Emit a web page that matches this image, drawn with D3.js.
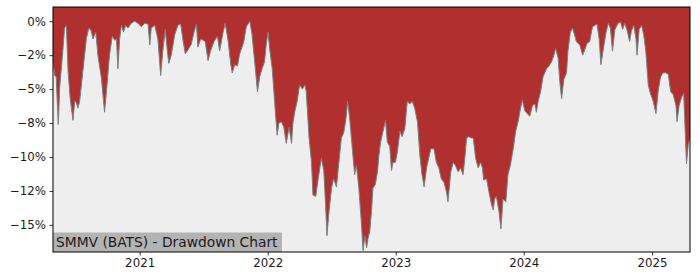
<!DOCTYPE html>
<html>
<head>
<meta charset="utf-8">
<script src="https://cdn.jsdelivr.net/npm/d3@7"></script>
<style>
  body { margin: 0; background: #fff; }
  text { font-family: "DejaVu Sans", sans-serif; }
</style>
</head>
<body>
<div id="chart"></div>
<script>
var title = "SMMV (BATS) - Drawdown Chart";

var dates = [
  "2020-04-29","2020-05-04","2020-05-08","2020-05-14","2020-05-18","2020-05-26","2020-06-01","2020-06-06","2020-06-11","2020-06-17",
  "2020-06-25","2020-06-30","2020-07-05","2020-07-09","2020-07-14","2020-07-23","2020-08-02","2020-08-09","2020-08-16","2020-08-21",
  "2020-08-29","2020-09-04","2020-09-14","2020-09-23","2020-09-30","2020-10-07","2020-10-15","2020-10-22","2020-10-27","2020-10-31",
  "2020-11-05","2020-11-10","2020-11-16","2020-11-22","2020-11-29","2020-12-08","2020-12-18","2020-12-27","2021-01-06","2021-01-15",
  "2021-01-25","2021-01-30","2021-02-03","2021-02-13","2021-02-22","2021-03-02","2021-03-08","2021-03-15","2021-03-21","2021-03-25",
  "2021-04-01","2021-04-11","2021-04-20","2021-04-28","2021-05-04","2021-05-11","2021-05-19","2021-05-28","2021-06-05","2021-06-12",
  "2021-06-16","2021-06-24","2021-07-01","2021-07-07","2021-07-15","2021-07-22","2021-08-01","2021-08-11","2021-08-17","2021-08-27",
  "2021-09-02","2021-09-10","2021-09-18","2021-09-22","2021-09-29","2021-10-07","2021-10-13","2021-10-20","2021-10-25","2021-11-01",
  "2021-11-11","2021-11-17","2021-11-25","2021-12-03","2021-12-09","2021-12-16","2021-12-23","2021-12-28","2022-01-02","2022-01-07",
  "2022-01-14","2022-01-21","2022-01-28","2022-02-02","2022-02-09","2022-02-16","2022-02-23","2022-03-03","2022-03-10","2022-03-14",
  "2022-03-19","2022-03-26","2022-04-02","2022-04-10","2022-04-17","2022-04-21","2022-04-29","2022-05-06","2022-05-10","2022-05-18",
  "2022-05-25","2022-06-03","2022-06-10","2022-06-15","2022-06-19","2022-06-25","2022-07-02","2022-07-08","2022-07-16","2022-07-23",
  "2022-07-30","2022-08-06","2022-08-12","2022-08-17","2022-08-23","2022-08-31","2022-09-06","2022-09-11","2022-09-18","2022-09-25",
  "2022-09-30","2022-10-05","2022-10-10","2022-10-14","2022-10-19","2022-10-24","2022-10-28","2022-11-04","2022-11-10","2022-11-14",
  "2022-11-19","2022-11-26","2022-12-03","2022-12-08","2022-12-15","2022-12-20","2022-12-24","2022-12-31","2023-01-06","2023-01-13",
  "2023-01-19","2023-01-27","2023-02-03","2023-02-10","2023-02-17","2023-02-24","2023-03-04","2023-03-11","2023-03-17","2023-03-23",
  "2023-03-30","2023-04-05","2023-04-11","2023-04-20","2023-04-27","2023-05-04","2023-05-11","2023-05-19","2023-05-26","2023-05-30",
  "2023-06-07","2023-06-14","2023-06-20","2023-06-28","2023-07-05","2023-07-12","2023-07-17","2023-07-22","2023-07-28","2023-08-05",
  "2023-08-10","2023-08-17","2023-08-24","2023-08-31","2023-09-05","2023-09-09","2023-09-17","2023-09-24","2023-10-01","2023-10-06",
  "2023-10-10","2023-10-15","2023-10-23","2023-10-28","2023-11-03","2023-11-11","2023-11-17","2023-11-24","2023-12-02","2023-12-09",
  "2023-12-16","2023-12-23","2023-12-28","2024-01-04","2024-01-11","2024-01-18","2024-01-26","2024-02-02","2024-02-06","2024-02-11",
  "2024-02-18","2024-02-25","2024-03-06","2024-03-13","2024-03-20","2024-03-27","2024-04-01","2024-04-08","2024-04-13","2024-04-18",
  "2024-04-24","2024-05-02","2024-05-06","2024-05-13","2024-05-19","2024-05-26","2024-05-30","2024-06-09","2024-06-17","2024-06-23",
  "2024-06-30","2024-07-07","2024-07-15","2024-07-22","2024-07-28","2024-08-03","2024-08-08","2024-08-14","2024-08-22","2024-08-29",
  "2024-09-04","2024-09-10","2024-09-17","2024-09-26","2024-10-03","2024-10-09","2024-10-15","2024-10-22","2024-10-29","2024-11-03",
  "2024-11-10","2024-11-16","2024-11-19","2024-11-25","2024-12-02","2024-12-08","2024-12-14","2024-12-21","2024-12-27","2025-01-04",
  "2025-01-12","2025-01-18","2025-01-25","2025-02-01","2025-02-09","2025-02-16","2025-02-23","2025-03-02","2025-03-10","2025-03-13",
  "2025-03-19","2025-03-26","2025-04-01","2025-04-06","2025-04-09","2025-04-14","2025-04-19"
];

// drawdown in percent
var drawdown = [
  -3.0,-4.0,-4.1,-7.6,-4.9,-2.5,-0.5,-0.3,-3.7,-5.7,
  -7.3,-5.9,-6.0,-6.4,-5.9,-3.7,-1.3,-0.5,-0.7,-1.3,
  -0.8,-2.5,-4.2,-6.7,-4.7,-2.5,-1.1,-1.4,-1.3,-3.5,
  -1.3,-0.3,-0.8,-0.3,-0.5,-0.15,0,-0.15,-0.4,-0.15,
  -0.2,-1.75,-0.5,-0.3,-1.3,-4.0,-2.2,-0.6,-2.2,-3.1,
  -2.5,-1.0,-0.3,-0.2,-1.3,-2.4,-2.1,-1.7,-0.8,-0.2,
  -1.9,-1.3,-1.4,-1.5,-2.9,-2.2,-1.5,-1.1,-2.2,-0.8,
  -0.15,-1.4,-3.2,-3.8,-3.2,-3.3,-2.4,-1.9,-1.5,-0.4,
  0,-0.9,-3.0,-5.2,-4.1,-3.5,-3.0,-1.7,-0.8,-2.1,
  -3.5,-6.0,-8.4,-7.5,-7.4,-7.8,-9.0,-7.8,-9.0,-7.5,
  -6.7,-5.9,-4.7,-5.0,-4.7,-5.2,-8.6,-10.4,-12.8,-12.9,
  -11.6,-10.1,-11.0,-13.5,-15.8,-14.0,-12.3,-11.6,-12.2,-10.4,
  -8.6,-8.2,-7.2,-5.9,-7.2,-9.6,-11.3,-10.6,-12.3,-14.8,
  -16.9,-15.8,-16.7,-16.0,-15.5,-14.0,-12.3,-12.0,-11.1,-9.9,
  -8.9,-8.1,-7.3,-8.9,-9.2,-11.0,-10.4,-10.4,-9.6,-8.1,
  -8.5,-7.9,-5.9,-6.1,-5.9,-6.4,-7.4,-9.9,-11.3,-12.2,
  -10.8,-10.1,-9.4,-9.4,-10.4,-10.8,-11.6,-11.9,-12.6,-13.3,
  -11.1,-10.4,-10.6,-11.1,-10.8,-11.3,-10.1,-8.6,-8.5,-8.6,
  -8.6,-10.1,-10.8,-10.4,-10.8,-11.7,-11.6,-12.6,-13.5,-13.9,
  -13.1,-12.9,-14.1,-15.3,-13.1,-13.3,-11.3,-10.6,-9.4,-8.1,
  -7.4,-6.4,-5.8,-6.6,-6.8,-7.0,-6.2,-6.1,-6.7,-5.9,
  -5.2,-4.1,-3.5,-3.3,-3.0,-2.5,-2.0,-2.7,-4.5,-5.7,
  -4.3,-3.8,-2.2,-0.8,-0.5,-1.1,-1.5,-1.75,-2.5,-2.1,
  -1.6,-1.5,-0.4,-0.3,-0.2,-1.3,-3.2,-2.2,-0.9,-0.15,
  -0.5,-2.2,-0.6,-0.15,-0.05,-0.6,-0.15,-0.7,-1.5,-0.7,
  -0.3,-1.3,-2.5,-0.6,-0.3,-1.0,-2.2,-4.7,-5.3,-5.9,
  -6.8,-5.2,-4.1,-3.8,-3.8,-3.9,-5.2,-5.4,-6.2,-7.4,
  -6.2,-5.6,-5.3,-8.6,-10.5,-9.1,-8.6
];

var yTicks = [0, -2.5, -5, -7.5, -10, -12.5, -15];
var yTickLabels = ["0%", "\u22122%", "\u22125%", "\u22128%", "\u221210%", "\u221212%", "\u221215%"];
var xTicks = ["2021-01-01", "2022-01-01", "2023-01-01", "2024-01-01", "2025-01-01"];

var margin = {top: 7, right: 10, bottom: 28, left: 53},
  width = 700 - margin.left - margin.right,
  height = 280 - margin.top - margin.bottom;

var parseDate = d3.timeParse("%Y-%m-%d");

var data = dates.map(function(d, i) {
  return {date: parseDate(d), value: drawdown[i]};
});

var x = d3.scaleTime()
  .domain(d3.extent(data, function(d) { return d.date; }))
  .range([0, width]);

var y = d3.scaleLinear()
  .domain([-17.0, 1.05])
  .range([height, 0]);

var svg = d3.select('#chart')
  .append('svg')
    .attr('width', 700)
    .attr('height', 280)
    .append('g')
      .attr('transform', 'translate(' + margin.left + ',' + margin.top + ')');

svg.append('defs').append('clipPath')
  .attr('id', 'plot-clip')
  .append('rect')
    .attr('width', width)
    .attr('height', height);

// plot background
svg.append('rect')
  .attr('width', width)
  .attr('height', height)
  .attr('fill', '#eeeeee');

var plot = svg.append('g').attr('clip-path', 'url(#plot-clip)');

// red area from the top of the axes down to the drawdown
var area = d3.area()
  .x(function(d) { return x(d.date); })
  .y0(0)
  .y1(function(d) { return y(d.value); });

plot.append('path')
  .datum(data)
  .attr('fill', '#b03030')
  .attr('d', area);

var line = d3.line()
  .x(function(d) { return x(d.date); })
  .y(function(d) { return y(d.value); });

plot.append('path')
  .datum(data)
  .attr('fill', 'none')
  .attr('stroke', '#7a8080')
  .attr('stroke-width', 1)
  .attr('d', line);

// title box in the lower left corner
var label = svg.append('g');
label.append('rect')
  .attr('x', 0)
  .attr('y', height - 19.5)
  .attr('width', 229)
  .attr('height', 19.5)
  .attr('fill', '#b3b3b3');
label.append('text')
  .attr('x', 3)
  .attr('y', height - 5)
  .attr('font-size', '13.8px')
  .attr('fill', '#1a1a1a')
  .text(title);

// axes
var yAxis = d3.axisLeft(y)
  .tickValues(yTicks)
  .tickSize(3.5)
  .tickPadding(3.5)
  .tickFormat(function(d, i) { return yTickLabels[i]; });

var xAxis = d3.axisBottom(x)
  .tickValues(xTicks.map(parseDate))
  .tickSize(3.5)
  .tickPadding(3.5)
  .tickFormat(d3.timeFormat("%Y"));

var gy = svg.append('g').call(yAxis);
var gx = svg.append('g')
  .attr('transform', 'translate(0,' + height + ')')
  .call(xAxis);

[gx, gy].forEach(function(g) {
  g.select('.domain').remove();
  g.selectAll('.tick line').attr('stroke', '#000').attr('stroke-width', 0.8);
  g.selectAll('.tick text')
    .attr('font-size', '11.8px')
    .attr('font-family', '"DejaVu Sans", sans-serif')
    .attr('fill', '#1a1a1a');
});

// frame
svg.append('rect')
  .attr('width', width)
  .attr('height', height)
  .attr('fill', 'none')
  .attr('stroke', '#000')
  .attr('stroke-width', 1);
</script>
</body>
</html>
